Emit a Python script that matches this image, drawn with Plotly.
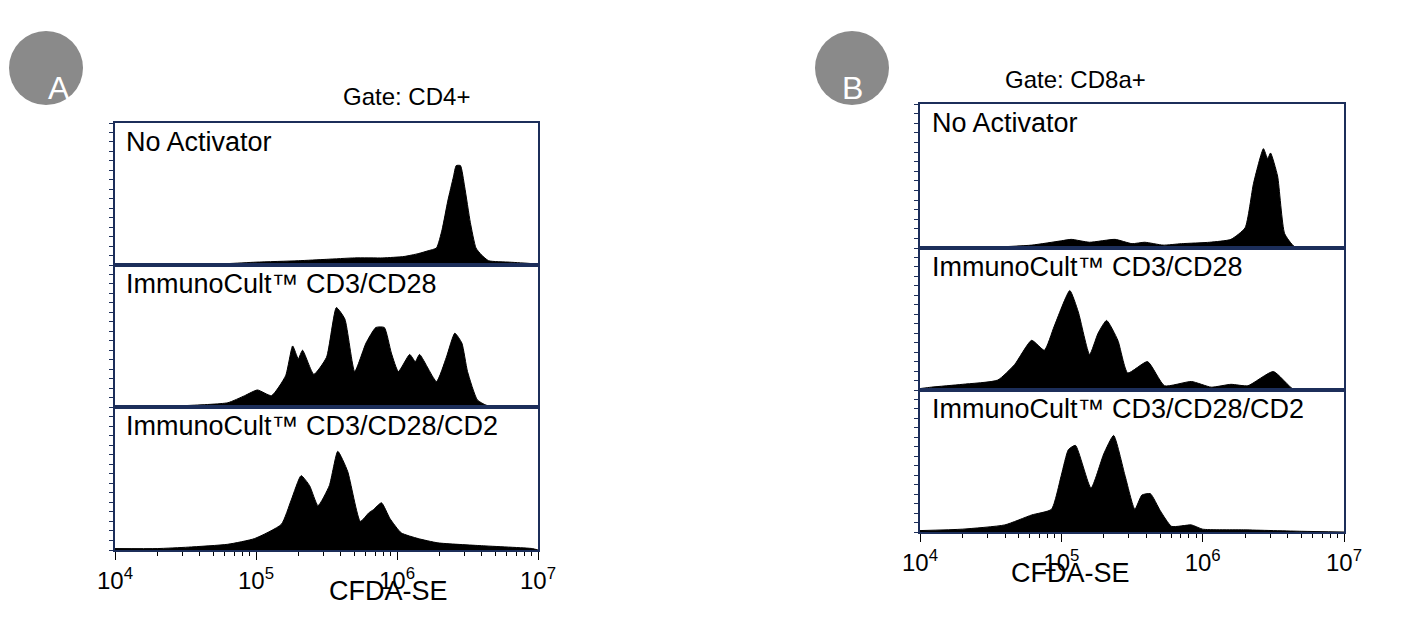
import plotly.graph_objects as go

# Histogram outlines: log10(CFDA-SE) and relative count (0-1 of row height)
A1_log = [4.0, 4.5, 4.8, 5.0, 5.3, 5.5, 5.7, 5.9, 6.05, 6.15, 6.22, 6.28, 6.32, 6.36, 6.40, 6.42, 6.45, 6.48, 6.52, 6.56, 6.6, 6.65, 6.8, 6.95, 7.0]
A1_h   = [0, 0.005, 0.01, 0.02, 0.03, 0.04, 0.05, 0.05, 0.06, 0.08, 0.10, 0.12, 0.25, 0.45, 0.62, 0.70, 0.70, 0.55, 0.30, 0.12, 0.07, 0.03, 0.02, 0.01, 0]

A2_log = [4.0, 4.5, 4.8, 4.92, 5.01, 5.11, 5.21, 5.26, 5.30, 5.33, 5.41, 5.50, 5.57, 5.63, 5.70, 5.78, 5.85, 5.91, 5.96, 6.01, 6.09, 6.13, 6.16, 6.28, 6.35, 6.41, 6.46, 6.50, 6.57, 6.64, 7.0]
A2_h   = [0, 0.01, 0.03, 0.08, 0.12, 0.08, 0.22, 0.43, 0.34, 0.40, 0.23, 0.35, 0.70, 0.62, 0.25, 0.45, 0.56, 0.56, 0.38, 0.25, 0.37, 0.32, 0.37, 0.18, 0.35, 0.52, 0.45, 0.25, 0.05, 0.01, 0]

A3_log = [4.0, 4.3, 4.52, 4.8, 4.99, 5.18, 5.25, 5.32, 5.38, 5.44, 5.52, 5.58, 5.65, 5.74, 5.80, 5.83, 5.89, 5.95, 6.03, 6.15, 6.29, 6.6, 6.96, 7.0]
A3_h   = [0.01, 0.01, 0.02, 0.04, 0.08, 0.18, 0.35, 0.52, 0.45, 0.31, 0.45, 0.69, 0.55, 0.20, 0.26, 0.28, 0.33, 0.22, 0.12, 0.08, 0.05, 0.03, 0.01, 0]

B1_log = [4.0, 4.5, 4.79, 5.0, 5.07, 5.2, 5.38, 5.5, 5.59, 5.72, 5.85, 6.05, 6.20, 6.30, 6.36, 6.43, 6.46, 6.48, 6.53, 6.58, 6.65, 6.8, 7.0]
B1_h   = [0, 0.005, 0.02, 0.05, 0.06, 0.04, 0.06, 0.03, 0.04, 0.02, 0.03, 0.04, 0.06, 0.14, 0.45, 0.69, 0.62, 0.66, 0.50, 0.10, 0.01, 0.005, 0]

B2_log = [4.0, 4.08, 4.3, 4.55, 4.67, 4.79, 4.88, 4.95, 5.06, 5.12, 5.20, 5.26, 5.32, 5.40, 5.47, 5.61, 5.73, 5.92, 6.06, 6.20, 6.32, 6.50, 6.65, 7.0]
B2_h   = [0.01, 0.02, 0.04, 0.07, 0.18, 0.35, 0.28, 0.45, 0.70, 0.55, 0.25, 0.40, 0.49, 0.35, 0.12, 0.20, 0.03, 0.06, 0.02, 0.04, 0.03, 0.13, 0, 0]

B3_log = [4.0, 4.3, 4.6, 4.79, 4.93, 5.0, 5.05, 5.10, 5.21, 5.30, 5.37, 5.45, 5.52, 5.57, 5.63, 5.70, 5.78, 5.92, 6.0, 6.3, 6.7, 7.0]
B3_h   = [0.01, 0.02, 0.05, 0.12, 0.16, 0.40, 0.58, 0.61, 0.31, 0.55, 0.68, 0.40, 0.16, 0.26, 0.27, 0.15, 0.04, 0.05, 0.02, 0.015, 0.005, 0]

row_labels = ["No Activator", "ImmunoCult™ CD3/CD28", "ImmunoCult™ CD3/CD28/CD2"]
gate_titles = ["Gate: CD4+", "Gate: CD8a+"]
panel_letters = ["A", "B"]
x_label = "CFDA-SE"
tick_vals = [1e4, 1e5, 1e6, 1e7]
tick_text = ["10<sup>4</sup>", "10<sup>5</sup>", "10<sup>6</sup>", "10<sup>7</sup>"]

W, H = 1402, 617
NAVY = "#1c2e5a"
FONT = "Liberation Sans, Arial, sans-serif"

panels = [
    dict(x0=107, x1=530, rows=[(115, 257), (257, 399), (399, 542)], data=[(A1_log, A1_h), (A2_log, A2_h), (A3_log, A3_h)],
         lab_x=116, title=(333, 73), circ=(38, 60), xlab_y=600),
    dict(x0=912, x1=1336, rows=[(96, 240), (240, 382), (382, 524)], data=[(B1_log, B1_h), (B2_log, B2_h), (B3_log, B3_h)],
         lab_x=922, title=(1140, 56), circ=(844, 60), xlab_y=582),
]

fig = go.Figure()
minor_vals = [m * 10 ** e for e in (4, 5, 6) for m in range(2, 10)]
k = 0
for pi, p in enumerate(panels):
    xd = [p["x0"] / W, p["x1"] / W]
    for ri, ((top, bot), (lg, hh)) in enumerate(zip(p["rows"], p["data"])):
        k += 1
        sfx = "" if k == 1 else str(k)
        fig.add_trace(go.Scatter(x=[10 ** v for v in lg], y=hh, mode="lines", fill="tozeroy",
                                 line=dict(color="black", width=1, shape="spline", smoothing=0.5), fillcolor="black",
                                 xaxis="x" + sfx, yaxis="y" + sfx, showlegend=False, hoverinfo="skip"))
        last = ri == 2
        fig.layout["xaxis" + sfx] = dict(domain=xd, anchor="y" + sfx, type="log", range=[4, 7],
                                         showline=True, linecolor=NAVY, linewidth=2, mirror=True,
                                         showgrid=False, zeroline=False,
                                         tickvals=tick_vals if last else [], ticktext=tick_text,
                                         ticks="outside" if last else "", ticklen=8, tickcolor="black",
                                         minor=dict(tickvals=minor_vals if last else [], ticks="outside" if last else "", ticklen=4, tickcolor="black"),
                                         tickfont=dict(family=FONT, size=24, color="black"))
        fig.layout["yaxis" + sfx] = dict(domain=[1 - bot / H, 1 - top / H], anchor="x" + sfx, range=[0, 1],
                                         showline=True, linecolor=NAVY, linewidth=2, mirror=True,
                                         showgrid=False, zeroline=False, showticklabels=False,
                                         ticks="outside", ticklen=4, tickcolor=NAVY, dtick=1 / 15)
        fig.add_annotation(xref="paper", yref="paper", x=p["lab_x"] / W, y=1 - (top + 2) / H,
                           text=row_labels[ri], showarrow=False, xanchor="left", yanchor="top",
                           font=dict(family=FONT, size=27, color="black"))
    fig.add_annotation(xref="paper", yref="paper", x=p["title"][0] / W, y=1 - p["title"][1] / H,
                       text=gate_titles[pi], showarrow=False, font=dict(family=FONT, size=24, color="black"))
    fig.add_annotation(xref="paper", yref="paper", x=(p["x0"] + p["x1"]) / 2 / W, y=1 - p["xlab_y"] / H,
                       text=x_label, showarrow=False, font=dict(family=FONT, size=27, color="black"))
    cx, cy = p["circ"]
    fig.add_shape(type="circle", xref="paper", yref="paper", x0=(cx - 37) / W, x1=(cx + 37) / W,
                  y0=1 - (cy + 37) / H, y1=1 - (cy - 37) / H, fillcolor="#8a8a8a", line=dict(width=0))
    fig.add_annotation(xref="paper", yref="paper", x=cx / W, y=1 - cy / H, text=panel_letters[pi],
                       showarrow=False, font=dict(family=FONT, size=32, color="white"))

fig.update_layout(width=W, height=H, margin=dict(l=0, r=0, t=0, b=0, autoexpand=False),
                  paper_bgcolor="white", plot_bgcolor="white")
fig.write_html("out.html")
